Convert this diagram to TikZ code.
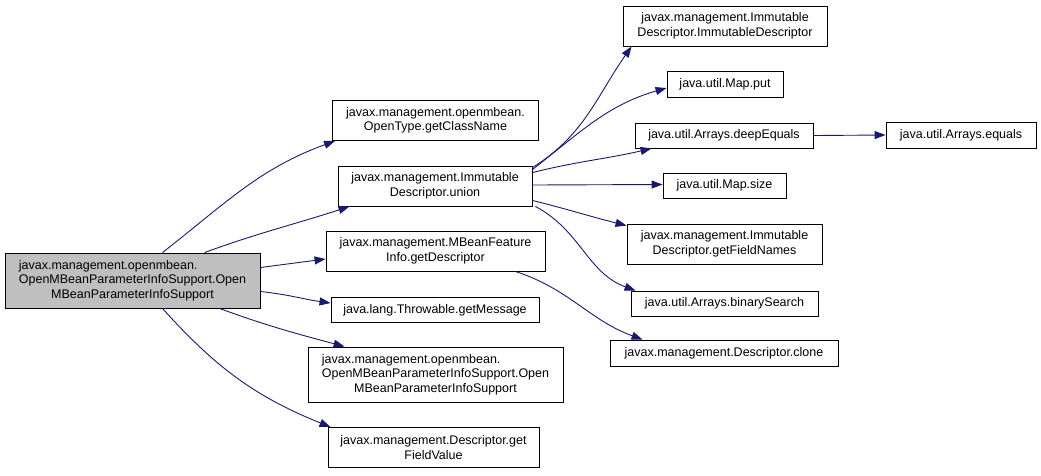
\documentclass[tikz,border=0pt]{standalone}
\usepackage{fontspec}
\setmainfont{Liberation Sans}
\usetikzlibrary{arrows.meta}
\definecolor{edgeblue}{RGB}{25,25,112}
\definecolor{rootgray}{RGB}{191,191,191}

\begin{document}
\begin{tikzpicture}[
  x=1pt, y=1pt,
  every node/.style={font=\fontsize{12.5}{14.5}\selectfont},
  func/.style={rectangle,draw=black,fill=white,align=center,inner sep=1pt,line width=0.9pt},
  root/.style={func,fill=rootgray},
  call/.style={draw=edgeblue,line width=0.9pt,-{Triangle[length=11pt,width=8pt]}}
]
\useasboundingbox (0,0) rectangle (1041,-475);

% ROOT
\node[root,minimum width=255pt,minimum height=55pt] (OMPIS) at (132.5,-280.5)
  {\rlap{javax.management.openmbean.}\phantom{OpenMBeanParameterInfoSupport.Open}\\OpenMBeanParameterInfoSupport.Open\\MBeanParameterInfoSupport};

% FIRST LEVEL
\node[func,minimum width=206pt,minimum height=40pt] (getClassName) at (435.5,-120.5)
  {javax.management.openmbean.\\OpenType.getClassName};
\node[func,minimum width=194pt,minimum height=40pt] (union) at (435,-186)
  {javax.management.Immutable\\Descriptor.union};
\node[func,minimum width=219pt,minimum height=40pt] (getDescriptor) at (435.5,-251)
  {javax.management.MBeanFeature\\Info.getDescriptor};
\node[func,minimum width=208pt,minimum height=25pt] (getMessage) at (435,-310)
  {java.lang.Throwable.getMessage};
\node[func,minimum width=255pt,minimum height=55pt] (OMPIScall) at (435.5,-374.5)
  {\rlap{javax.management.openmbean.}\phantom{OpenMBeanParameterInfoSupport.Open}\\OpenMBeanParameterInfoSupport.Open\\MBeanParameterInfoSupport};
\node[func,minimum width=211pt,minimum height=40pt] (getFieldValue) at (433.5,-447.5)
  {javax.management.Descriptor.get\\FieldValue};

% SECOND LEVEL
\node[func,minimum width=204pt,minimum height=40pt] (ImmDesc) at (725,-26)
  {javax.management.Immutable\\Descriptor.ImmutableDescriptor};
\node[func,minimum width=116pt,minimum height=26pt] (put) at (725,-84)
  {java.util.Map.put};
\node[func,minimum width=178pt,minimum height=25pt] (deepEquals) at (724,-135.5)
  {java.util.Arrays.deepEquals};
\node[func,minimum width=123pt,minimum height=25pt] (size) at (724.5,-185.5)
  {java.util.Map.size};
\node[func,minimum width=195pt,minimum height=40pt] (getFieldNames) at (724.5,-244)
  {javax.management.Immutable\\Descriptor.getFieldNames};
\node[func,minimum width=187pt,minimum height=25pt] (binarySearch) at (724.5,-303.5)
  {java.util.Arrays.binarySearch};
\node[func,minimum width=228pt,minimum height=26pt] (clone) at (724,-353)
  {javax.management.Descriptor.clone};

% THIRD LEVEL
\node[func,minimum width=150pt,minimum height=26pt] (equals) at (961,-135)
  {java.util.Arrays.equals};

% CALLS FROM ROOT
\draw[call] ([xshift=30pt]OMPIS.north) to[out=38,in=200] ([xshift=3pt]getClassName.south west);
\draw[call] ([xshift=72pt]OMPIS.north) to[out=20,in=198] ([xshift=12pt]union.south west);
\draw[call] ([yshift=13pt]OMPIS.east) -- ([yshift=-8pt]getDescriptor.west);
\draw[call] ([yshift=-11pt]OMPIS.east) to[out=-6,in=172] ([yshift=7pt]getMessage.west);
\draw[call] ([xshift=87pt]OMPIS.south) to[out=-20,in=165] ([xshift=37pt]OMPIScall.north west);
\draw[call] ([xshift=30pt]OMPIS.south) to[out=-48,in=158] ([xshift=3pt]getFieldValue.north west);

% CALLS FROM UNION
\draw[call] ([yshift=-2pt]union.north east) to[out=32,in=235] ([xshift=9pt]ImmDesc.south west);
\draw[call] ([yshift=-4pt]union.north east) to[out=38,in=196] ([yshift=-4pt]put.west);
\draw[call] ([yshift=-7pt]union.north east) to[out=14,in=193] ([xshift=17pt]deepEquals.south west);
\draw[call] ([yshift=1pt]union.east) -- ([yshift=1pt]size.west);
\draw[call] ([yshift=6pt]union.south east) to[out=-14,in=166] ([yshift=-2pt]getFieldNames.north west);
\draw[call] ([xshift=3pt]union.south east) to[out=-28,in=160] ([xshift=5pt]binarySearch.north west);

% OTHER CALLS
\draw[call] ([xshift=-30pt]getDescriptor.south east) to[out=-18,in=160] ([xshift=33pt]clone.north west);
\draw[call] (deepEquals.east) -- (equals.west);

\end{tikzpicture}
\end{document}
